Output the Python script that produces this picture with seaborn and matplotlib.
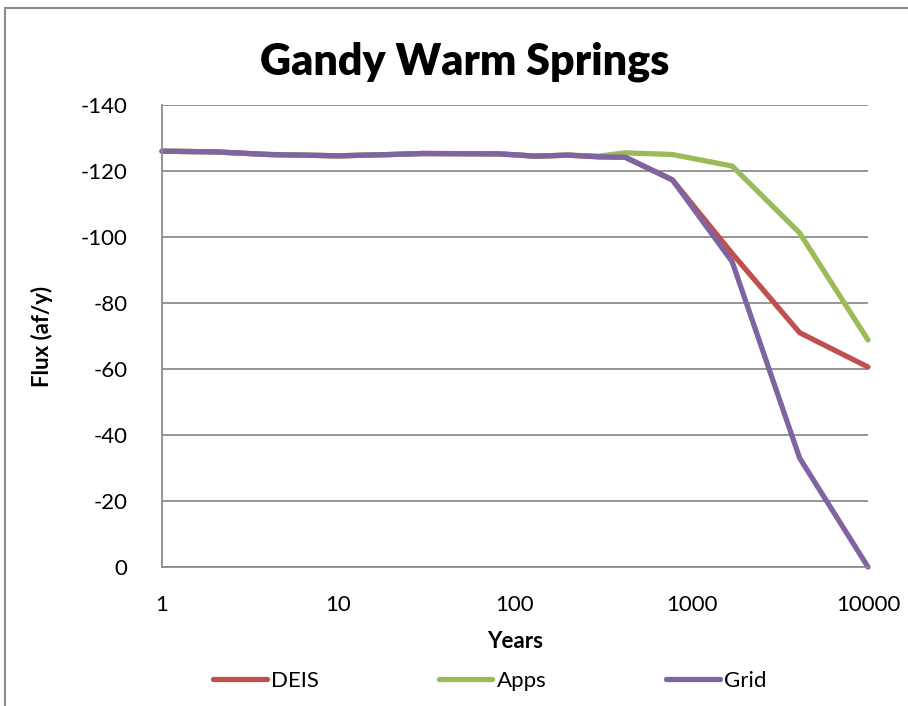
import pandas as pd
import matplotlib
matplotlib.use("Agg")
import matplotlib.pyplot as plt
import matplotlib.patches as patches
import seaborn as sns

# Data
years = [1, 2, 4, 10, 20, 30, 80, 100, 130, 200, 300, 420, 780, 1700, 4100, 10000]
deis = [-126, -125.8, -125, -124.6, -125, -125.3, -125.2, -124.9, -124.5, -124.8,
        -124.3, -124.2, -117.3, -95, -71, -60.6]
apps = [-126, -125.8, -125, -124.6, -125, -125.3, -125.2, -124.9, -124.5, -124.8,
        -124.5, -125.5, -125, -121.5, -101.2, -68.8]
grid = [-126, -125.8, -125, -124.6, -125, -125.3, -125.2, -124.9, -124.5, -124.8,
        -124.3, -124.2, -117.3, -92.5, -33, 0]
series = ["DEIS", "Apps", "Grid"]
colors = ["#C0504D", "#9BBB59", "#8064A2"]

df = pd.concat([
    pd.DataFrame({"Years": years, "Flux": deis, "Series": "DEIS"}),
    pd.DataFrame({"Years": years, "Flux": apps, "Series": "Apps"}),
    pd.DataFrame({"Years": years, "Flux": grid, "Series": "Grid"}),
])

sns.set_style("white")
plt.rcParams['font.family'] = ['Lato', 'DejaVu Sans']
plt.rcParams['axes.unicode_minus'] = False
plt.rcParams['text.color'] = 'black'
plt.rcParams['axes.labelcolor'] = 'black'
plt.rcParams['xtick.labelcolor'] = 'black'
plt.rcParams['ytick.labelcolor'] = 'black'

fig = plt.figure(figsize=(9.08, 7.06), dpi=100)
ax = fig.add_axes([162/908, 1 - 567/706, (868 - 162)/908, (567 - 105)/706])

sns.lineplot(data=df, x="Years", y="Flux", hue="Series", hue_order=series,
             palette=colors, linewidth=3.8, ax=ax, sort=False)
for line in ax.lines:
    line.set_solid_capstyle("round")
    line.set_solid_joinstyle("round")
    line.set_clip_on(False)

ax.set_xscale("log")
ax.set_xlim(1, 10000)
ax.set_ylim(0, -140)
ax.set_yticks(range(0, -141, -20))
ax.set_xticks([1, 10, 100, 1000, 10000])
ax.set_xticklabels(["1", "10", "100", "1000", "10000"])
ax.minorticks_off()

ax.yaxis.grid(True, color="#8c8c8c", linewidth=1.3)
ax.set_axisbelow(True)
for s in ["top", "right"]:
    ax.spines[s].set_visible(False)
for s in ["left", "bottom"]:
    ax.spines[s].set_color("#8c8c8c")
    ax.spines[s].set_linewidth(1.3)

ax.tick_params(axis="y", direction="out", length=7, color="#8c8c8c", width=1.3,
               labelsize=16, pad=18, labelcolor="black")
ax.tick_params(axis="x", direction="in", length=7, color="#8c8c8c", width=1.3,
               labelsize=16, pad=20, labelcolor="black")

ax.set_xlabel("Years", fontsize=16, fontweight="bold", labelpad=12)
ax.set_ylabel("Flux (af/y)", fontsize=16, fontweight="bold", labelpad=20)
fig.text(465/908, 1 - 62/706, "Gandy Warm Springs", fontsize=31,
         fontweight="heavy", ha="center", va="center", color="black")

handles, labels = ax.get_legend_handles_labels()
ax.get_legend().remove()
for h in handles:
    h.set_linewidth(3.8)
    h.set_solid_capstyle("round")
fig.legend(handles, labels, loc="center", bbox_to_anchor=(490/908, 1 - 681/706),
           ncol=3, frameon=False, fontsize=16, columnspacing=5.4, handlelength=2.4,
           handletextpad=0.2)

fig.patches.append(patches.Rectangle((5/908, -0.05), 1.0, (706 - 8)/706 + 0.05,
                                     transform=fig.transFigure, fill=False,
                                     edgecolor="#8c8c8c", linewidth=1.5))

fig.savefig("out.png", dpi=100)
